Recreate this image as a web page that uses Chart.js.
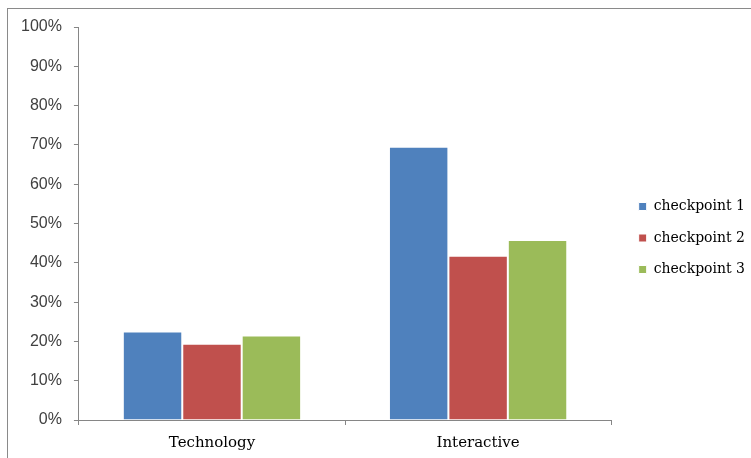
<!DOCTYPE html>
<html>
<head>
<meta charset="utf-8">
<script src="https://cdn.jsdelivr.net/npm/chart.js@4"></script>
<style>
  html, body { margin: 0; padding: 0; background: #fff; }
  #frame {
    position: absolute; left: 7px; top: 8px; width: 744px; height: 450px;
    border-left: 1px solid #8a8a8a; border-top: 1px solid #8a8a8a;
  }
  #wrap { position: absolute; left: 0; top: 0; width: 751px; height: 458px; }
</style>
</head>
<body>
<div id="frame"></div>
<div id="wrap"><canvas id="chart"></canvas></div>
<script>
const categories = ["Technology", "Interactive"];
const checkpoint1 = [22.5, 69.5];
const checkpoint2 = [19.4, 41.8];
const checkpoint3 = [21.5, 45.8];
const seriesNames = ["checkpoint 1", "checkpoint 2", "checkpoint 3"];
const seriesColors = ["#4f81bd", "#c0504d", "#9bbb59"];

const axisGray = "#868686";

// nudge the legend a bit after layout, chart area stays put
const legendNudge = {
  id: "legendNudge",
  afterLayout(chart) {
    const lg = chart.legend;
    lg.left += 10;
    lg.right += 10;
    lg.top -= 6;
    lg.bottom -= 6;
  },
};

const ctx = document.getElementById("chart").getContext("2d");

const chart = new Chart(ctx, {
  type: "bar",
  data: {
    labels: categories,
    datasets: [checkpoint1, checkpoint2, checkpoint3].map((values, i) => ({
      label: seriesNames[i],
      data: values,
      backgroundColor: seriesColors[i],
      borderColor: "#ffffff",
      borderWidth: 1,
      borderSkipped: "bottom",
      categoryPercentage: 0.67,
      barPercentage: 1,
    })),
  },
  options: {
    responsive: true,
    maintainAspectRatio: false,
    animation: false,
    layout: {
      padding: { left: 9, top: 27, right: 6, bottom: -3 },
    },
    plugins: {
      tooltip: { enabled: false },
      legend: {
        position: "right",
        labels: {
          boxWidth: 8,
          boxHeight: 8,
          padding: 17.5,
          color: "#000",
          font: { family: "DejaVu Serif", size: 14 },
        },
      },
    },
    scales: {
      x: {
        grid: {
          offset: true,
          drawOnChartArea: false,
          tickLength: 5,
          color: axisGray,
        },
        border: { color: axisGray },
        ticks: {
          color: "#000",
          padding: 9,
          font: { family: "DejaVu Serif", size: 15 },
        },
      },
      y: {
        min: 0,
        max: 100,
        grid: {
          drawOnChartArea: false,
          tickLength: 5,
          color: axisGray,
        },
        border: { color: axisGray },
        ticks: {
          stepSize: 10,
          color: "#404040",
          padding: 12,
          font: { family: "Liberation Sans", size: 16 },
          callback: (v) => v + "%",
        },
      },
    },
  },
  plugins: [legendNudge],
});
</script>
</body>
</html>
